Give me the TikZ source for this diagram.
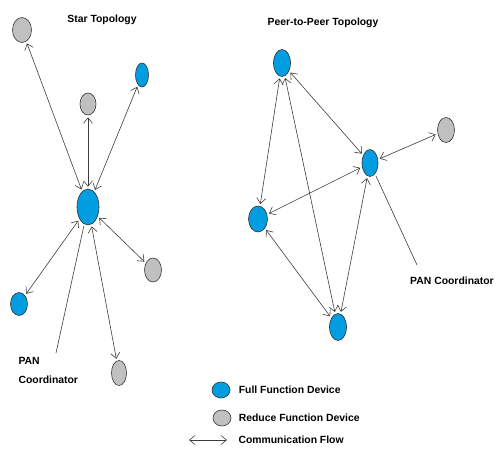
\documentclass[tikz,border=0pt]{standalone}
\usepackage{fontspec}
\setmainfont{Liberation Sans}
\usepackage{tikz}
\usetikzlibrary{shapes.geometric, arrows.meta, positioning}
\definecolor{ffdblue}{RGB}{0, 157, 224}
\definecolor{rfdgray}{RGB}{192, 192, 192}
\definecolor{flowgray}{RGB}{60, 60, 60}

\begin{document}
\begin{tikzpicture}[x=1pt, y=-1pt,
    font=\fontsize{10.4}{12}\selectfont\bfseries,
    ffd/.style={ellipse, draw=black!80, fill=ffdblue, inner sep=0pt, line width=0.6pt},
    rfd/.style={ellipse, draw=black!80, fill=rfdgray, inner sep=0pt, line width=0.6pt},
    flow/.style={draw=flowgray, line width=0.6pt,
        {Straight Barb[length=5.5pt,width=9pt]}-{Straight Barb[length=5.5pt,width=9pt]}},
    pointer/.style={draw=flowgray, line width=0.6pt}]
    \useasboundingbox (0,0) rectangle (496,453);

    % star topology
    \node (startitle) at (102,20) {Star Topology};
    \node[ffd, minimum width=22pt, minimum height=36pt] (sc) at (88,207) {};
    \node[rfd, minimum width=19pt, minimum height=25pt] (s1) at (22,30) {};
    \node[rfd, minimum width=16pt, minimum height=22pt] (s2) at (88,104) {};
    \node[ffd, minimum width=13pt, minimum height=24pt] (s3) at (142,75) {};
    \node[rfd, minimum width=17pt, minimum height=24pt] (s4) at (153,270) {};
    \node[ffd, minimum width=17pt, minimum height=23pt] (s5) at (19,304) {};
    \node[rfd, minimum width=15pt, minimum height=25pt] (s6) at (119,373) {};
    \foreach \s in {s1,s2,s3,s4,s5,s6}
        \draw[flow, shorten <=2pt, shorten >=2pt] (sc) -- (\s);
    \node[anchor=north west, align=left, font=\fontsize{10.4}{19}\selectfont\bfseries]
        (starpan) at (15,354) {PAN\\Coordinator};
    \coordinate (starpanend) at (56,353);
    \draw[pointer, shorten >=2pt] (starpanend) -- (sc);

    % peer-to-peer topology
    \node (p2ptitle) at (323,23) {Peer-to-Peer Topology};
    \node[ffd, minimum width=17pt, minimum height=27pt] (pa) at (282,63) {};
    \node[rfd, minimum width=17pt, minimum height=25pt] (pg) at (446,130) {};
    \node[ffd, minimum width=16pt, minimum height=27pt] (pc) at (370,163) {};
    \node[ffd, minimum width=19pt, minimum height=26pt] (pl) at (258,219) {};
    \node[ffd, minimum width=17pt, minimum height=27pt] (pb) at (338,327) {};
    \foreach \u/\v in {pa/pl, pa/pc, pa/pb, pc/pl, pc/pb, pl/pb, pc/pg}
        \draw[flow, shorten <=2pt, shorten >=2pt] (\u) -- (\v);
    \node (p2ppan) at (452,281) {PAN Coordinator};
    \coordinate (p2ppanend) at (417,265);
    \draw[pointer, shorten >=2pt] (p2ppanend) -- (pc);

    % legend
    \node[ffd, minimum width=18pt, minimum height=16pt] (legffd) at (221,390) {};
    \node[right=5pt of legffd] (legffdtext) {Full Function Device};
    \node[rfd, minimum width=18pt, minimum height=16pt] (legrfd) at (222,418) {};
    \node[right=4pt of legrfd] (legrfdtext) {Reduce Function Device};
    \coordinate (legflowa) at (189,440);
    \coordinate (legflowb) at (227,440);
    \draw[flow] (legflowa) -- (legflowb);
    \node[right=8pt of legflowb] (legflowtext) {Communication Flow};
\end{tikzpicture}
\end{document}
